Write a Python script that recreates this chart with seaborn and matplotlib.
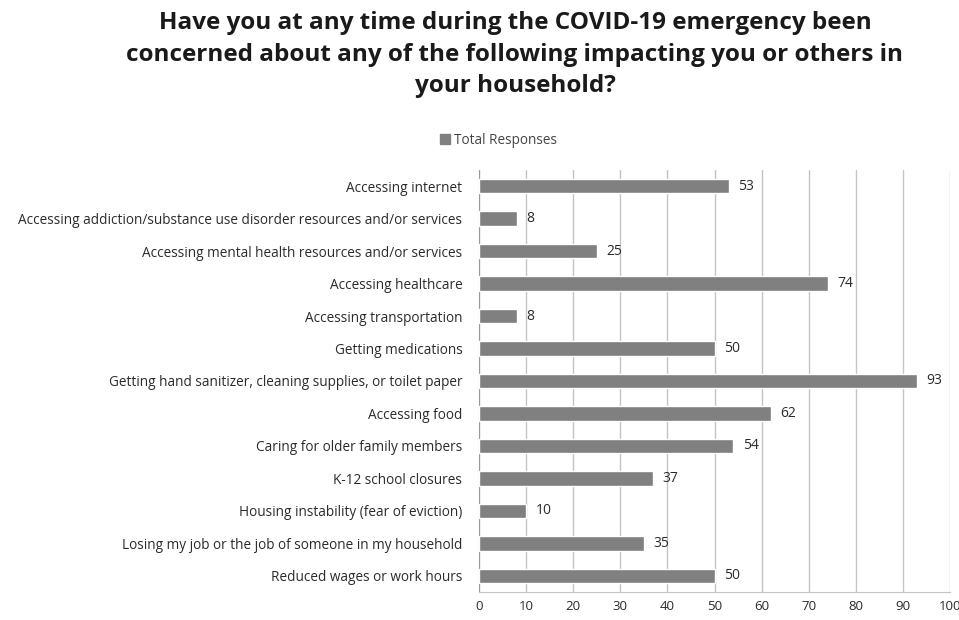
import numpy as np
import pandas as pd
import seaborn as sns
from matplotlib import pyplot as plt
from matplotlib.patches import Patch

categories = [
    "Accessing internet",
    "Accessing addiction/substance use disorder resources and/or services",
    "Accessing mental health resources and/or services",
    "Accessing healthcare",
    "Accessing transportation",
    "Getting medications",
    "Getting hand sanitizer, cleaning supplies, or toilet paper",
    "Accessing food",
    "Caring for older family members",
    "K-12 school closures",
    "Housing instability (fear of eviction)",
    "Losing my job or the job of someone in my household",
    "Reduced wages or work hours",
]
responses = [53, 8, 25, 74, 8, 50, 93, 62, 54, 37, 10, 35, 50]
x_ticks = list(range(0, 101, 10))

title = ("Have you at any time during the COVID-19 emergency been\n"
         "concerned about any of the following impacting you or others in\n"
         "your household?")

df = pd.DataFrame({"category": categories, "responses": responses})

sns.set_style("white")
plt.rcParams["font.family"] = ["Open Sans", "DejaVu Sans"]

fig = plt.figure(figsize=(9.59, 6.2), dpi=100)
ax = fig.add_axes([0.4995, 0.045, 0.4911, 0.681])

bar_color = "#808080"
text_color = "#2b2b2b"
sns.barplot(data=df, y="category", x="responses", orient="h",
            color=bar_color, saturation=1, width=0.44, ax=ax, zorder=3)

for i, v in enumerate(responses):
    ax.text(v + 2, i, str(v), va="center", ha="left", fontsize=10, color=text_color)

ax.set_xlim(0, 100)
ax.set_xticks(x_ticks)
ax.set_xticklabels([str(t) for t in x_ticks], fontsize=9.5, color=text_color)
ax.set_ylim(len(categories) - 0.5, -0.5)
ax.tick_params(axis="y", labelsize=9.8, labelcolor=text_color, length=0, pad=12)
ax.set_yticks(np.arange(len(categories)) - 0.5, minor=True)
ax.tick_params(axis="y", which="minor", length=5, color="#999999", direction="out")
ax.tick_params(axis="x", length=4, color="#bbbbbb", direction="out", pad=2)
ax.set_xlabel("")
ax.set_ylabel("")

ax.grid(axis="x", color="#c4c4c4", linewidth=1, zorder=0)
for s in ["top", "right"]:
    ax.spines[s].set_visible(False)
ax.spines["left"].set_color("#999999")
ax.spines["bottom"].set_color("#c4c4c4")

fig.text(0.537, 0.982, title, ha="center", va="top", fontsize=17.5,
         fontweight="bold", color="#1a1a1a", linespacing=1.42)

fig.legend(handles=[Patch(color=bar_color, label="Total Responses")],
           loc="center", bbox_to_anchor=(0.52, 0.774), frameon=False,
           fontsize=9.8, handlelength=0.7, handleheight=0.7, handletextpad=0.3,
           labelcolor="#444444")

fig.savefig("out.png", dpi=100)
